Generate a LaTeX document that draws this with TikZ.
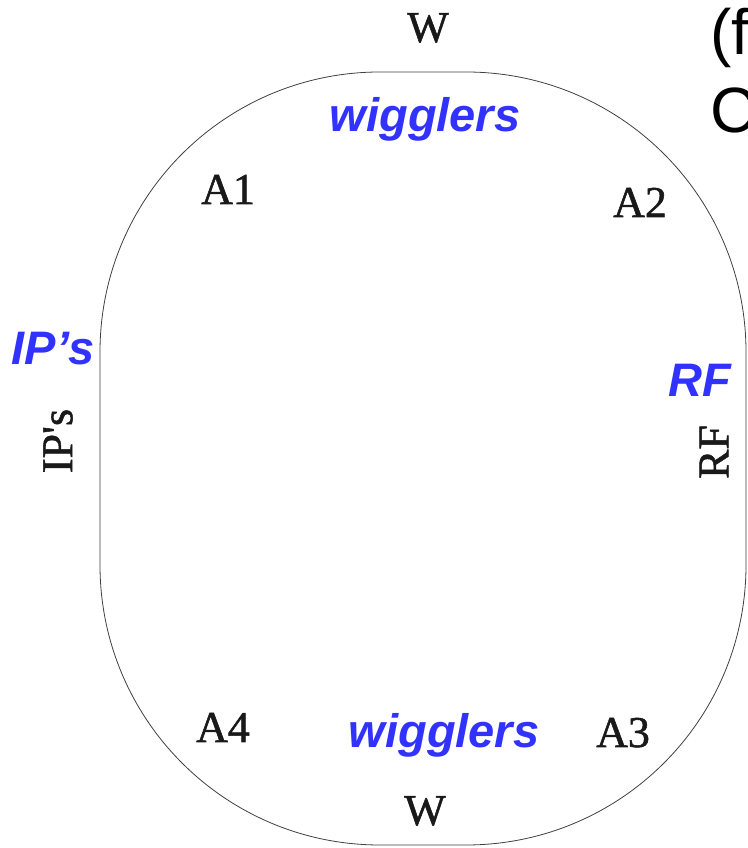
\documentclass[tikz,border=0pt]{standalone}
\usepackage{fontspec}
\setmainfont{Liberation Serif}
\newfontfamily\semiserif[FakeBold=1.2]{Liberation Serif}
\newfontfamily\arialf{Liberation Sans}
\definecolor{lblblue}{RGB}{50,50,255}
\tikzset{
  ring/.style={draw=black!75, line width=0.8pt},
  seriflbl/.style={inner sep=0pt, font=\semiserif\fontsize{44}{50}\selectfont, text=black!90},
  bluelbl/.style={inner sep=0pt, font=\arialf\bfseries\itshape\fontsize{47}{54}\selectfont, text=lblblue},
  titlelbl/.style={inner sep=0pt, font=\arialf\fontsize{64}{76}\selectfont, text=black, anchor=base west}
}
\begin{document}
\begin{tikzpicture}[x=1pt,y=1pt]
\useasboundingbox (0,0) rectangle (747,848);
\clip (0,0) rectangle (747,848);
\fill[white] (0,0) rectangle (747,848);
% racetrack
\draw[ring] (100,496) -- (100,283)
  arc[start angle=180,end angle=270,radius=280] -- (466,3)
  arc[start angle=270,end angle=360,radius=280] -- (746,496)
  arc[start angle=0,end angle=90,radius=280] -- (380,776)
  arc[start angle=90,end angle=180,radius=280] -- cycle;
% black serif labels
\node[seriflbl, anchor=base] (wtop) at (428,806) {W};
\node[seriflbl, anchor=base] (wbot) at (425,23) {W};
\node[seriflbl, anchor=base] (a1) at (228,644) {A1};
\node[seriflbl, anchor=base] (a2) at (640,631) {A2};
\node[seriflbl, anchor=base] (a3) at (623,101) {A3};
\node[seriflbl, anchor=base] (a4) at (223,106) {A4};
\node[seriflbl, rotate=90] (ipsr) at (58,407) {IP\textquotesingle s};
\node[seriflbl, rotate=90] (rfr) at (714,396) {RF};
% blue labels
\node[bluelbl, anchor=base] (wigtop) at (425,716) {wigglers};
\node[bluelbl, anchor=base] (wigbot) at (444,100) {wigglers};
\node[bluelbl, anchor=base] (ipsb) at (53,483) {IP’s};
\node[bluelbl, anchor=base] (rfb) at (700,451) {RF};
% cut-off title text
\node[titlelbl] (tr1) at (710,793) {(f};
\node[titlelbl] (tr2) at (710,715) {C};
\end{tikzpicture}
\end{document}
